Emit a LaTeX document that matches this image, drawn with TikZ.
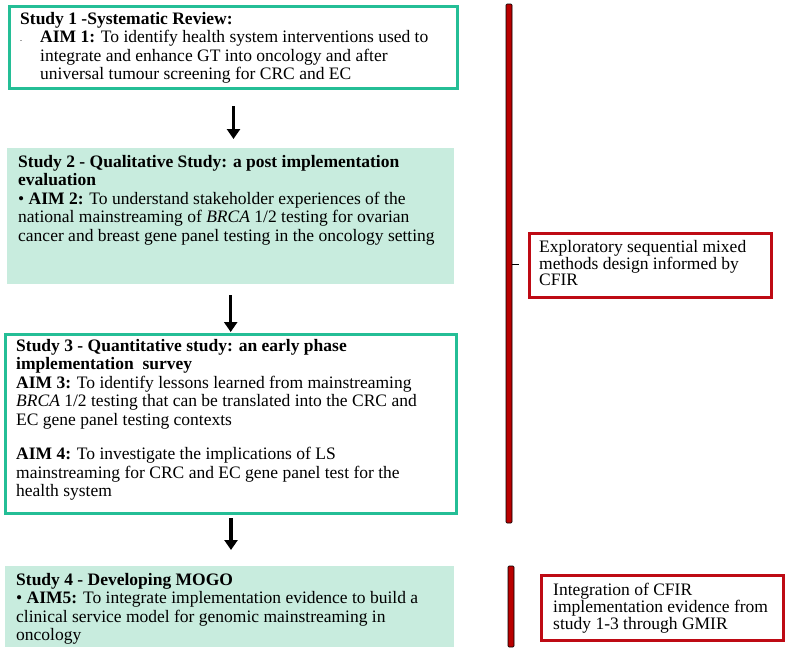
\documentclass[tikz,border=0pt]{standalone}
\usepackage{fontspec}
\setmainfont{Liberation Serif}
\usetikzlibrary{arrows.meta}
\definecolor{studyGreen}{RGB}{36,190,150}
\definecolor{studyFill}{RGB}{200,236,222}
\definecolor{designRed}{RGB}{190,10,20}
\definecolor{barRed}{RGB}{185,0,0}
\begin{document}
\begin{tikzpicture}
[x=1pt,y=-1pt,
  greenFrame/.style={draw=studyGreen,line width=3pt,anchor=north west,inner sep=0pt},%
  fillFrame/.style={fill=studyFill,anchor=north west,inner sep=0pt},%
  redFrame/.style={draw=designRed,line width=2.5pt,anchor=north west,inner sep=0pt},%
  studyText/.style={anchor=north west,inner sep=0pt,align=left,font=\fontsize{17.5}{18.5}\selectfont},%
  noteText/.style={anchor=north west,inner sep=0pt,align=left,font=\fontsize{17.5}{16.8}\selectfont},%
  flowArrow/.style={line width=3.5pt,-{Triangle[length=10pt,width=13pt]}},%
  redBar/.style={fill=barRed,draw=black,line width=0.6pt,rounded corners=1pt}]
\useasboundingbox (0,0) rectangle (787,656);
%% study frames
\node[greenFrame,minimum width=448pt,minimum height=82pt] (s1) at (8,5) {};
\node[fillFrame,minimum width=447pt,minimum height=136pt] (s2) at (7,148) {};
\node[greenFrame,minimum width=451pt,minimum height=179pt] (s3) at (4,333) {};
\node[fillFrame,minimum width=449pt,minimum height=81pt] (s4) at (5,566) {};
%% design frames
\node[redFrame,minimum width=242pt,minimum height=64pt] (d1) at (528,232) {};
\node[redFrame,minimum width=242pt,minimum height=65pt] (d2) at (540,574) {};
%% study texts
\node[studyText] (t1) at (20,12) {\textbf{Study 1 -Systematic Review:}\\
  \makebox[20pt][l]{\fontsize{6}{6}\selectfont -}\textbf{AIM 1:} To identify health system interventions used to\\
  \hspace*{20pt}integrate and enhance GT into oncology and after\\
  \hspace*{20pt}universal tumour screening for CRC and EC};
\node[studyText] (t2) at (18,155) {\textbf{Study 2 - Qualitative Study: a post implementation}\\
  \textbf{evaluation}\\
  • \textbf{AIM 2:} To understand stakeholder experiences of the\\
  national mainstreaming of \textit{BRCA} 1/2 testing for ovarian\\
  cancer and breast gene panel testing in the oncology setting};
\node[studyText] (t3) at (16,339) {\textbf{Study 3 - Quantitative study: an early phase}\\
  \textbf{implementation\ \ survey}\\
  \textbf{AIM 3:} To identify lessons learned from mainstreaming\\
  \textit{BRCA} 1/2 testing that can be translated into the CRC and\\
  EC gene panel testing contexts\\[16pt]
  \textbf{AIM 4:} To investigate the implications of LS\\
  mainstreaming for CRC and EC gene panel test for the\\
  health system};
\node[studyText] (t4) at (16,573) {\textbf{Study 4 - Developing MOGO}\\
  • \textbf{AIM5:} To integrate implementation evidence to build a\\
  clinical service model for genomic mainstreaming in\\
  oncology};
%% design texts
\node[noteText] (n1) at (539,240) {Exploratory sequential mixed\\
  methods design informed by\\
  CFIR};
\node[noteText] (n2) at (553,583) {Integration of CFIR\\
  implementation evidence from\\
  study 1-3 through GMIR};
%% arrows between studies
\path
\foreach \startnode/\endnode/\gapa/\gapb in {s1/s2/16/9, s2/s3/11/1, s3/s4/3/16}
{
  (\startnode.south) edge[flowArrow,shorten <=\gapa pt,shorten >=\gapb pt] (\startnode.south |- \endnode.north)
};
%% red brackets
\draw[redBar] (506,4) rectangle (512,523);
\draw[line width=1pt] (512,264) -- (519,264);
\draw[redBar] (508,566) rectangle (514,647);
\end{tikzpicture}
\end{document}
